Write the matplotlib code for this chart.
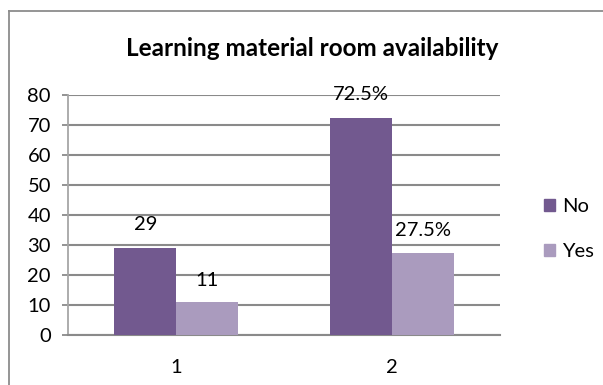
import matplotlib
matplotlib.use("Agg")
import matplotlib.pyplot as plt
from matplotlib.lines import Line2D
from matplotlib.patches import Patch

plt.rcParams['font.family'] = ['Lato', 'DejaVu Sans']

# Data
categories = ["1", "2"]
series_names = ["No", "Yes"]
no_values = [29, 72.5]
yes_values = [11, 27.5]
no_labels = ["29", "72.5%"]
yes_labels = ["11", "27.5%"]
# label heights (data units) where each value label sits
no_label_y = [36.7, 80.3]
yes_label_y = [18.3, 35.0]
y_ticks = [0, 10, 20, 30, 40, 50, 60, 70, 80]

no_color = "#72598F"
yes_color = "#AA9BBE"
grid_color = "#8A8A8A"
fs = 14.5

W, H = 603, 385
fig = plt.figure(figsize=(W / 100, H / 100), dpi=100)

# outer chart frame (top and left edges)
fig.add_artist(Line2D([9 / W, 9 / W], [0, 1 - 11 / H], transform=fig.transFigure,
                      color="#8C8C8C", lw=1.3))
fig.add_artist(Line2D([9 / W, 1], [1 - 11 / H, 1 - 11 / H], transform=fig.transFigure,
                      color="#8C8C8C", lw=1.3))

left, right, bottom, top = 68, 500, 335, 95
ax = fig.add_axes([left / W, (H - bottom) / H, (right - left) / W, (bottom - top) / H])

x = list(range(len(categories)))
bw = 0.285
no_x = [xi - bw / 2 for xi in x]
yes_x = [xi + bw / 2 for xi in x]
ax.bar(no_x, no_values, width=bw, color=no_color, zorder=3, label=series_names[0])
ax.bar(yes_x, yes_values, width=bw, color=yes_color, zorder=3, label=series_names[1])

for xi, ly, txt in zip(no_x, no_label_y, no_labels):
    ax.text(xi, ly, txt, ha="center", va="center", fontsize=fs, color="black", zorder=4)
for xi, ly, txt in zip(yes_x, yes_label_y, yes_labels):
    ax.text(xi, ly, txt, ha="center", va="center", fontsize=fs, color="black", zorder=4)

ax.set_xlim(-0.5, 1.5)
ax.set_ylim(0, 80)
ax.set_yticks(y_ticks)
ax.set_xticks(x)
ax.set_xticklabels(categories)
ax.yaxis.grid(True, color=grid_color, lw=1.5, zorder=0)
ax.set_axisbelow(True)

for s in ["top", "right"]:
    ax.spines[s].set_visible(False)
ax.spines["left"].set_color("#A6A6A6")
ax.spines["left"].set_linewidth(1.3)
ax.spines["bottom"].set_color(grid_color)
ax.spines["bottom"].set_linewidth(1.5)
ax.tick_params(axis="y", length=4.3, width=1.3, color=grid_color, pad=8, labelsize=fs)
ax.tick_params(axis="x", length=0, pad=17, labelsize=fs)

fig.text(312 / W, 1 - 48 / H, "Learning material room availability",
         ha="center", va="center", fontsize=17.5, fontweight="bold")

handles = [Patch(color=no_color), Patch(color=yes_color)]
fig.legend(handles, series_names, loc="center left",
           bbox_to_anchor=(526 / W, 1 - 229 / H), frameon=False,
           fontsize=fs, handlelength=0.55, handleheight=0.55,
           handletextpad=0.35, labelspacing=1.4)

fig.savefig("out.png", dpi=100)
